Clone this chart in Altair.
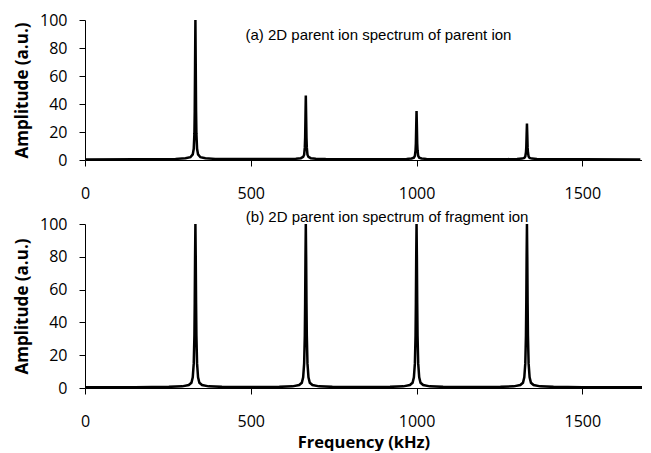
import altair as alt
import pandas as pd

# Panel (a): 2D parent ion spectrum of parent ion
freq_a = [0, 150, 273, 303, 318, 325, 328, 330, 331, 332, 333, 334, 335, 336, 338, 341, 348, 363, 393, 500,
          606, 636, 651, 658, 661, 663, 664, 665, 666, 667, 668, 669, 671, 674, 681, 696, 726, 830,
          940, 970, 985, 992, 995, 997, 998, 999, 1000, 1001, 1002, 1003, 1005, 1008, 1015, 1030, 1060, 1170,
          1273, 1303, 1318, 1325, 1328, 1330, 1331, 1332, 1333, 1334, 1335, 1336, 1338, 1341, 1348, 1363, 1393, 1500, 1675]
amp_a = [0.4, 0.5, 0.8, 1.2, 2.0, 4.0, 8.0, 19, 35, 68, 100, 68, 35, 19, 8.0, 4.0, 2.0, 1.2, 0.8, 0.7,
         0.7, 0.9, 1.3, 2.2, 3.8, 9.0, 16, 31, 46, 31, 16, 9.0, 3.8, 2.2, 1.3, 0.9, 0.7, 0.6,
         0.6, 0.8, 1.1, 1.7, 3.0, 7.0, 12, 24, 35, 24, 12, 7.0, 3.0, 1.7, 1.1, 0.8, 0.6, 0.6,
         0.6, 0.8, 1.0, 1.5, 2.5, 5.5, 9.0, 18, 26, 18, 9.0, 5.5, 2.5, 1.5, 1.0, 0.8, 0.6, 0.5, 0.4]

# Panel (b): 2D parent ion spectrum of fragment ion
freq_b = [0, 150, 253, 293, 313, 321, 325, 328, 330, 331, 332, 333, 334, 335, 336, 338, 341, 345, 353, 373, 413, 500,
          586, 626, 646, 654, 658, 661, 663, 664, 665, 666, 667, 668, 669, 671, 674, 678, 686, 706, 746, 830,
          920, 960, 980, 988, 992, 995, 997, 998, 999, 1000, 1001, 1002, 1003, 1005, 1008, 1012, 1020, 1040, 1080, 1170,
          1253, 1293, 1313, 1321, 1325, 1328, 1330, 1331, 1332, 1333, 1334, 1335, 1336, 1338, 1341, 1345, 1353, 1373, 1413, 1500, 1690]
amp_b = [0.4, 0.5, 0.7, 1.0, 1.8, 3.2, 6.5, 15, 32, 52, 80, 100, 80, 52, 32, 15, 6.5, 3.2, 1.8, 1.0, 0.7, 0.6,
         0.7, 1.0, 1.8, 3.2, 6.5, 15, 32, 52, 80, 100, 80, 52, 32, 15, 6.5, 3.2, 1.8, 1.0, 0.7, 0.6,
         0.7, 1.0, 1.8, 3.2, 6.5, 15, 32, 52, 80, 100, 80, 52, 32, 15, 6.5, 3.2, 1.8, 1.0, 0.7, 0.6,
         0.7, 1.0, 1.8, 3.2, 6.5, 15, 32, 52, 80, 100, 80, 52, 32, 15, 6.5, 3.2, 1.8, 1.0, 0.7, 0.5, 0.4]

label_a = "(a) 2D parent ion spectrum of parent ion"
label_b = "(b) 2D parent ion spectrum of fragment ion"
x_ticks = [0, 500, 1000, 1500]
y_ticks = [0, 20, 40, 60, 80, 100]

df_a = pd.DataFrame({"f": freq_a, "a": amp_a})
df_b = pd.DataFrame({"f": freq_b, "a": amp_b})

LABEL_FONT = "Open Sans"
ANNOT_FONT = "Liberation Sans"


def panel(df, label, label_x, label_y, height, x_title):
    x_axis = alt.Axis(values=x_ticks, format="d", title=x_title, grid=False, domain=True, domainColor="black",
                      tickColor="black", tickSize=6, labelPadding=19, labelFontSize=16,
                      labelFont=LABEL_FONT, labelColor="black", labelOverlap=False, labelFlush=False,
                      titleFont=LABEL_FONT, titleFontSize=16.5, titleFontWeight="bold",
                      titleColor="black", titlePadding=5)
    y_axis = alt.Axis(values=y_ticks, format="d", title="Amplitude (a.u.)", grid=False, domainColor="black",
                      tickColor="black", tickSize=6, labelPadding=12, labelFontSize=16,
                      labelFont=LABEL_FONT, labelColor="black", labelOverlap=False, labelFlush=False,
                      titleFont=LABEL_FONT, titleFontSize=17, titleFontWeight="bold",
                      titleColor="black", titlePadding=8)
    line = alt.Chart(df).mark_line(color="black", strokeWidth=2.5, clip=True)
    tdf = pd.DataFrame({"f": [label_x], "a": [label_y], "t": [label]})
    text = alt.Chart(tdf).mark_text(align="left", baseline="middle", font=ANNOT_FONT, fontSize=15,
                                    color="black").encode(text="t:N")
    return alt.layer(line, text).encode(
        x=alt.X("f:Q", scale=alt.Scale(domain=[0, 1680], nice=False), axis=x_axis),
        y=alt.Y("a:Q", scale=alt.Scale(domain=[0, 100], nice=False), axis=y_axis),
    ).properties(width=557, height=height)


top = panel(df_a, label_a, 484, 89.5, 140, None)
bottom = panel(df_b, label_b, 485, 104, 164, "Frequency (kHz)")

chart = alt.vconcat(top, bottom, spacing=9).properties(
    padding={"left": 5, "top": 4, "right": 0, "bottom": 0}
).configure(background="white").configure_view(stroke=None)
chart.save("out.html", embed_options={"renderer": "svg", "actions": False})
